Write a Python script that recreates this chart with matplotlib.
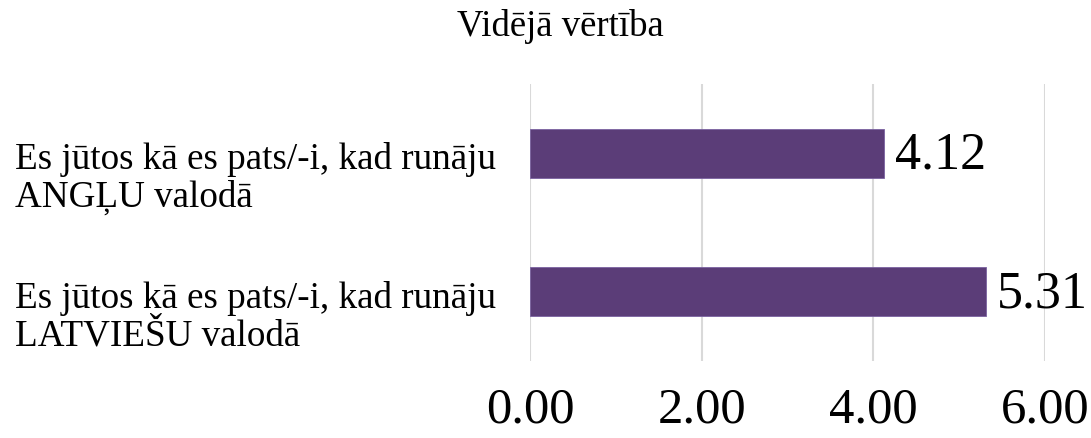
import matplotlib.pyplot as plt
import matplotlib.transforms as mtransforms

plt.rcParams['font.family'] = ['Liberation Serif', 'DejaVu Serif']

# data
categories = ["Es jūtos kā es pats/-i, kad runāju\nANGĻU valodā",
              "Es jūtos kā es pats/-i, kad runāju\nLATVIEŠU valodā"]
values = [4.12, 5.31]
xticks = [0, 2, 4, 6]
title = "Vidējā vērtība"
bar_color = "#5b3d78"

fig = plt.figure(figsize=(10.91, 4.39), dpi=100)
ax = fig.add_axes([530/1091, 1-362/439, (1045-530)/1091, (362-85)/439])

ypos = list(range(len(values)))
ax.barh(ypos, values, height=0.355, color=bar_color, edgecolor="#7a62a0", linewidth=0.6, zorder=3)
ax.set_ylim(1.5, -0.5)
ax.set_xlim(0, 6)
ax.set_xticks(xticks)
ax.set_xticklabels(["%.2f" % t for t in xticks], fontsize=36.5)
ax.tick_params(axis='x', length=0, pad=18)
ax.set_yticks([])
ax.grid(axis='x', color="#d9d9d9", linewidth=1.5, zorder=0)
for s in ax.spines.values():
    s.set_visible(False)

# value labels
for y, v in zip(ypos, values):
    ax.annotate("%.2f" % v, (v, y), xytext=(8, -1), textcoords="offset points",
                va='center', ha='left', fontsize=37.5)

# category labels, left aligned at the figure edge
trans = mtransforms.blended_transform_factory(fig.transFigure, ax.transData)
for y, lab in zip(ypos, categories):
    ax.text(15/1091, y + 0.175, lab, transform=trans, ha='left', va='center',
            fontsize=26.7, linespacing=1.1)

fig.text(560/1091, 1-27/439, title, ha='center', va='center', fontsize=26.5)

fig.savefig("out.png", dpi=100)
